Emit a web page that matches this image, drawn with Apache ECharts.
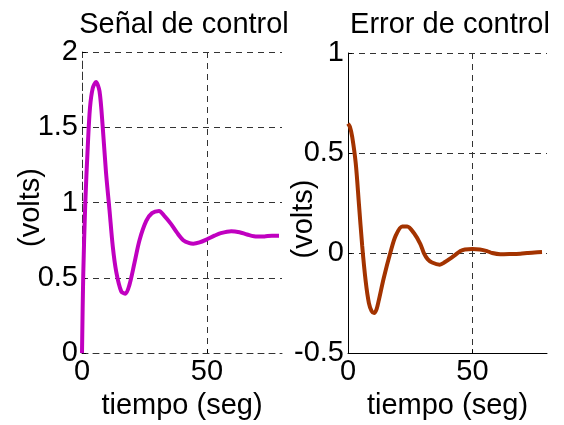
<!DOCTYPE html>
<html>
<head>
<meta charset="utf-8">
<script src="https://cdn.jsdelivr.net/npm/echarts@6/dist/echarts.min.js"></script>
<style>html,body{margin:0;padding:0;background:#fff}#c{width:564px;height:425px}</style>
</head>
<body>
<div id="c"></div>
<script>
// Señal de control (left)
const timeU = [0,0.5,1.3,2.3,3.2,4.3,5.6,7.0,8.3,9.6,11.0,12.3,13.7,15.7,17.4,19.0,21.0,23.0,25.7,28,30.8,33,35.5,38,40.5,43,44.5,47,50,53,55.5,59.7,63,66,70,73,76,78.8];
const valU  = [0,0.52,0.99,1.37,1.63,1.76,1.80,1.74,1.50,1.20,0.95,0.71,0.54,0.41,0.395,0.455,0.60,0.75,0.878,0.93,0.944,0.91,0.86,0.80,0.75,0.73,0.727,0.735,0.756,0.78,0.797,0.81,0.803,0.788,0.774,0.775,0.78,0.78];
// Error de control (right)
const timeE = [0,0.8,1.7,3.1,4.4,5.7,7.1,8.4,9.5,10.5,11.5,12.4,14.4,17.1,19.1,21.8,23.8,26.5,29.1,30.5,32,33.8,36.9,39,41.2,43,45.2,47,50,53,55.9,58,61.2,65,69.3,72,75,78];
const valE  = [0.647,0.63,0.58,0.45,0.244,0.037,-0.14,-0.25,-0.29,-0.30,-0.28,-0.235,-0.123,0.005,0.085,0.133,0.133,0.10,0.045,0.0,-0.03,-0.047,-0.058,-0.045,-0.027,-0.01,0.01,0.018,0.02,0.018,0.01,0.0,-0.006,-0.005,-0.003,0.0,0.003,0.005];
const xTicks = [0, 50];
const yTicksU = [0, 0.5, 1, 1.5, 2];
const yTicksE = [-0.5, 0, 0.5, 1];
const titles = ['Señal de control', 'Error de control'];
const xName = 'tiempo (seg)';
const yName = '(volts)';

const FONT = '"Liberation Sans", Arial, sans-serif';
const FS = 29;
const pair = (xs, ys) => xs.map((x, i) => [x, ys[i]]);

const chart = echarts.init(document.getElementById('c'), null, {renderer: 'canvas'});
const gridDash = {show: true, showMaxLine: false, lineStyle: {color: '#333', type: [6, 5], width: 1}};
const gridDashY = {show: true, lineStyle: {color: '#333', type: [6, 5], width: 1}};
const tick = {show: true, inside: true, length: 4, lineStyle: {color: '#000', width: 1}};
const axisLabelY = {fontFamily: FONT, fontSize: FS, color: '#000', margin: 4, formatter: v => String(v)};
const axisLabelX = {fontFamily: FONT, fontSize: FS, color: '#000', margin: 4};

function xAx(gi, dashedAxis) {
  return {
    type: 'value', gridIndex: gi, min: 0, max: 80, interval: 50,
    axisLine: {show: true, onZero: false, lineStyle: {color: dashedAxis ? '#333' : '#000', width: 1, type: dashedAxis ? [6,5] : 'solid'}},
    axisTick: tick,
    axisLabel: Object.assign({}, axisLabelX, {showMaxLabel: false}),
    splitLine: gridDash,
    name: xName, nameLocation: 'middle', nameGap: 29,
    nameTextStyle: {fontFamily: FONT, fontSize: FS, color: '#000'}
  };
}
function yAx(gi, min, max, dashedAxis) {
  return {
    type: 'value', gridIndex: gi, min: min, max: max, interval: 0.5,
    axisLine: {show: true, onZero: false, lineStyle: {color: dashedAxis ? '#333' : '#000', width: 1, type: dashedAxis ? [6,5] : 'solid'}},
    axisTick: tick,
    axisLabel: axisLabelY,
    splitLine: gridDashY
  };
}

chart.setOption({
  animation: false,
  backgroundColor: '#fff',
  grid: [
    {left: 82, top: 52, width: 200, height: 313},
    {left: 348, top: 53, width: 199, height: 311}
  ],
  xAxis: [xAx(0, true), xAx(1, false)],
  yAxis: [yAx(0, 0, 2, true), yAx(1, -0.5, 1, false)],
  series: [
    {type: 'line', xAxisIndex: 0, yAxisIndex: 0, data: pair(timeU, valU), smooth: 0.3, showSymbol: false,
     lineStyle: {color: '#c000c0', width: 4}},
    {type: 'line', xAxisIndex: 1, yAxisIndex: 1, data: pair(timeE, valE), smooth: 0.3, showSymbol: false,
     lineStyle: {color: '#a33300', width: 4}}
  ],
  graphic: [
    {type: 'text', x: 184, y: 25, style: {text: titles[0], font: FS + 'px ' + FONT, fill: '#000', align: 'center', verticalAlign: 'middle'}},
    {type: 'text', x: 450, y: 25, style: {text: titles[1], font: FS + 'px ' + FONT, fill: '#000', align: 'center', verticalAlign: 'middle'}},
    {type: 'text', x: 30.5, y: 207.5, rotation: Math.PI / 2, style: {text: yName, font: FS + 'px ' + FONT, fill: '#000', align: 'center', verticalAlign: 'middle'}},
    {type: 'text', x: 303.5, y: 219, rotation: Math.PI / 2, style: {text: yName, font: FS + 'px ' + FONT, fill: '#000', align: 'center', verticalAlign: 'middle'}}
  ]
});
</script>
</body>
</html>
